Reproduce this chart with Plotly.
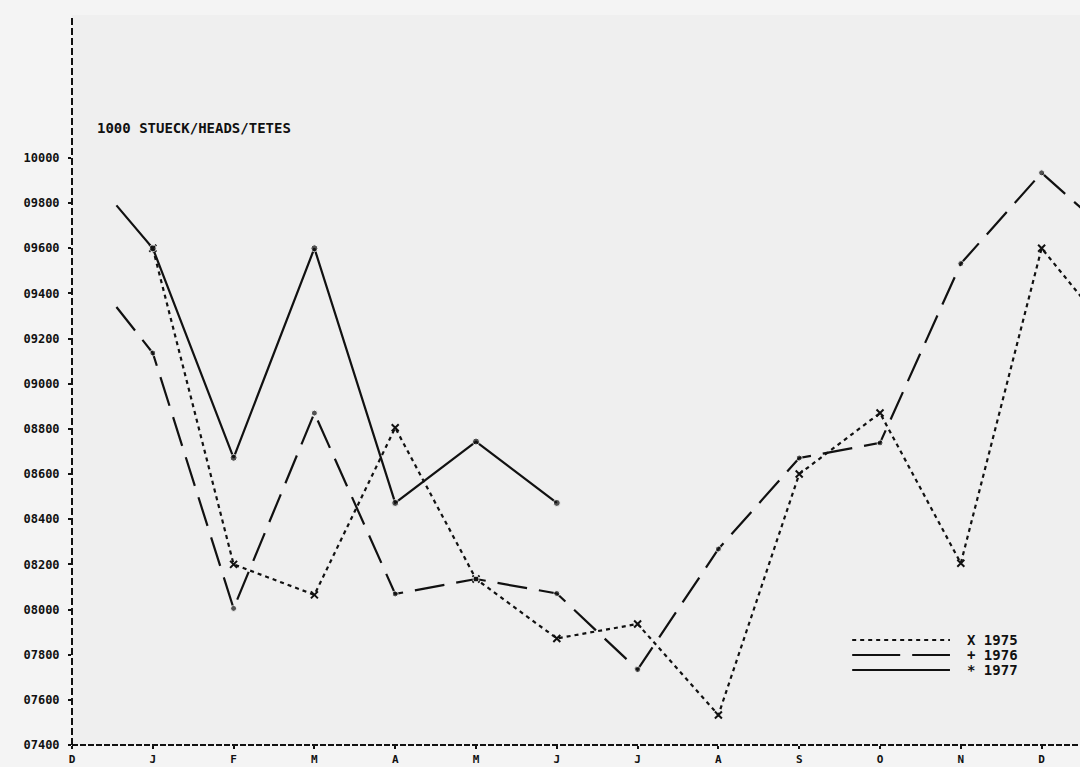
import plotly.graph_objects as go

# ---------------- data ----------------
month_labels = ["D", "J", "F", "M", "A", "M", "J", "J", "A", "S", "O", "N", "D"]

# 1975 (dotted, x) : J .. D, plus following January (cut at right edge)
x_1975 = [1, 2, 3, 4, 5, 6, 7, 8, 9, 10, 11, 12, 13]
y_1975 = [9600, 8200, 8065, 8805, 8135, 7872, 7936, 7533, 8600, 8870, 8205, 9600, 9160]

# 1976 (dashed, +) : starts half-way into December
x_1976 = [0.55, 1, 2, 3, 4, 5, 6, 7, 8, 9, 10, 11, 12, 13]
y_1976 = [9340, 9136, 8005, 8870, 8069, 8135, 8071, 7734, 8268, 8671, 8738, 9532, 9934, 9615]

# 1977 (solid, *) : starts half-way into December, ends in June
x_1977 = [0.55, 1, 2, 3, 4, 5, 6]
y_1977 = [9790, 9600, 8672, 9600, 8472, 8744, 8472]

y_ticks = [7400, 7600, 7800, 8000, 8200, 8400, 8600, 8800, 9000, 9200, 9400, 9600, 9800, 10000]
y_tick_labels = ["07400", "07600", "07800", "08000", "08200", "08400", "08600",
                 "08800", "09000", "09200", "09400", "09600", "09800", "10000"]

unit_label = "1000 STUECK/HEADS/TETES"
legend_names = ["X 1975", "+ 1976", "* 1977"]

# ---------------- figure ----------------
FONT = "DejaVu Sans Mono"
INK = "#111111"

fig = go.Figure()

fig.add_trace(go.Scatter(
    x=x_1975, y=y_1975, mode="lines+markers", name="1975",
    line=dict(color=INK, width=2.2, dash="4px,4px"),
    marker=dict(symbol="x-thin", size=7, line=dict(color=INK, width=2)),
    showlegend=False, cliponaxis=True))

fig.add_trace(go.Scatter(
    x=x_1976, y=y_1976, mode="lines+markers", name="1976",
    line=dict(color=INK, width=2.2, dash="30px,12px"),
    marker=dict(symbol="circle", size=[0] + [6] * (len(x_1976) - 1), color=INK),
    showlegend=False, cliponaxis=True))

fig.add_trace(go.Scatter(
    x=x_1977, y=y_1977, mode="lines+markers", name="1977",
    line=dict(color=INK, width=2.2),
    marker=dict(symbol="circle", size=[0] + [7] * (len(x_1977) - 1), color=INK),
    showlegend=False, cliponaxis=True))

# dashed axis lines
fig.add_shape(type="line", xref="paper", yref="paper", x0=0, x1=0, y0=0, y1=1,
              line=dict(color=INK, width=2, dash="7px,3px"), layer="above")
fig.add_shape(type="line", xref="paper", yref="paper", x0=0, x1=1, y0=0, y1=0,
              line=dict(color=INK, width=2, dash="6px,2px"), layer="above")

# unit label
fig.add_annotation(text=unit_label, xref="paper", yref="paper", x=0.023, y=0.845,
                   xanchor="left", yanchor="middle", showarrow=False,
                   font=dict(family=FONT, size=14, color=INK, weight="bold"))

# hand-drawn style legend (lower right)
leg_y = [0.1438, 0.1233, 0.1027]
leg_dash = ["4px,4px", "48px,12px", "solid"]
for yy, dd, nm in zip(leg_y, leg_dash, legend_names):
    fig.add_shape(type="line", xref="paper", yref="paper", x0=0.774, x1=0.871,
                  y0=yy, y1=yy, line=dict(color=INK, width=2, dash=dd))
    fig.add_annotation(text=nm, xref="paper", yref="paper", x=0.886, y=yy,
                       xanchor="left", yanchor="middle", showarrow=False,
                       font=dict(family=FONT, size=14, color=INK, weight="bold"))

fig.update_xaxes(range=[0, 12.475], tickmode="array",
                 tickvals=list(range(len(month_labels))), ticktext=month_labels,
                 showgrid=False, zeroline=False, showline=False,
                 ticks="outside", ticklen=3, tickwidth=2, tickcolor=INK,
                 ticklabelstandoff=1,
                 tickfont=dict(family=FONT, size=11, color=INK, weight="bold"))
fig.update_yaxes(range=[7400, 10633], tickmode="array",
                 tickvals=y_ticks, ticktext=y_tick_labels,
                 showgrid=False, zeroline=False, showline=False,
                 ticks="outside", ticklen=3, tickwidth=2, tickcolor=INK,
                 ticklabelstandoff=6,
                 tickfont=dict(family=FONT, size=12, color=INK, weight="bold"))

fig.update_layout(width=1080, height=767, autosize=False,
                  margin=dict(l=72, r=0, t=15, b=22, pad=0),
                  paper_bgcolor="#f4f4f4", plot_bgcolor="#efefef",
                  showlegend=False)

fig.write_html("out.html", config={"displayModeBar": False},
               post_script="document.body.style.margin='0';document.body.style.overflow='hidden';")
